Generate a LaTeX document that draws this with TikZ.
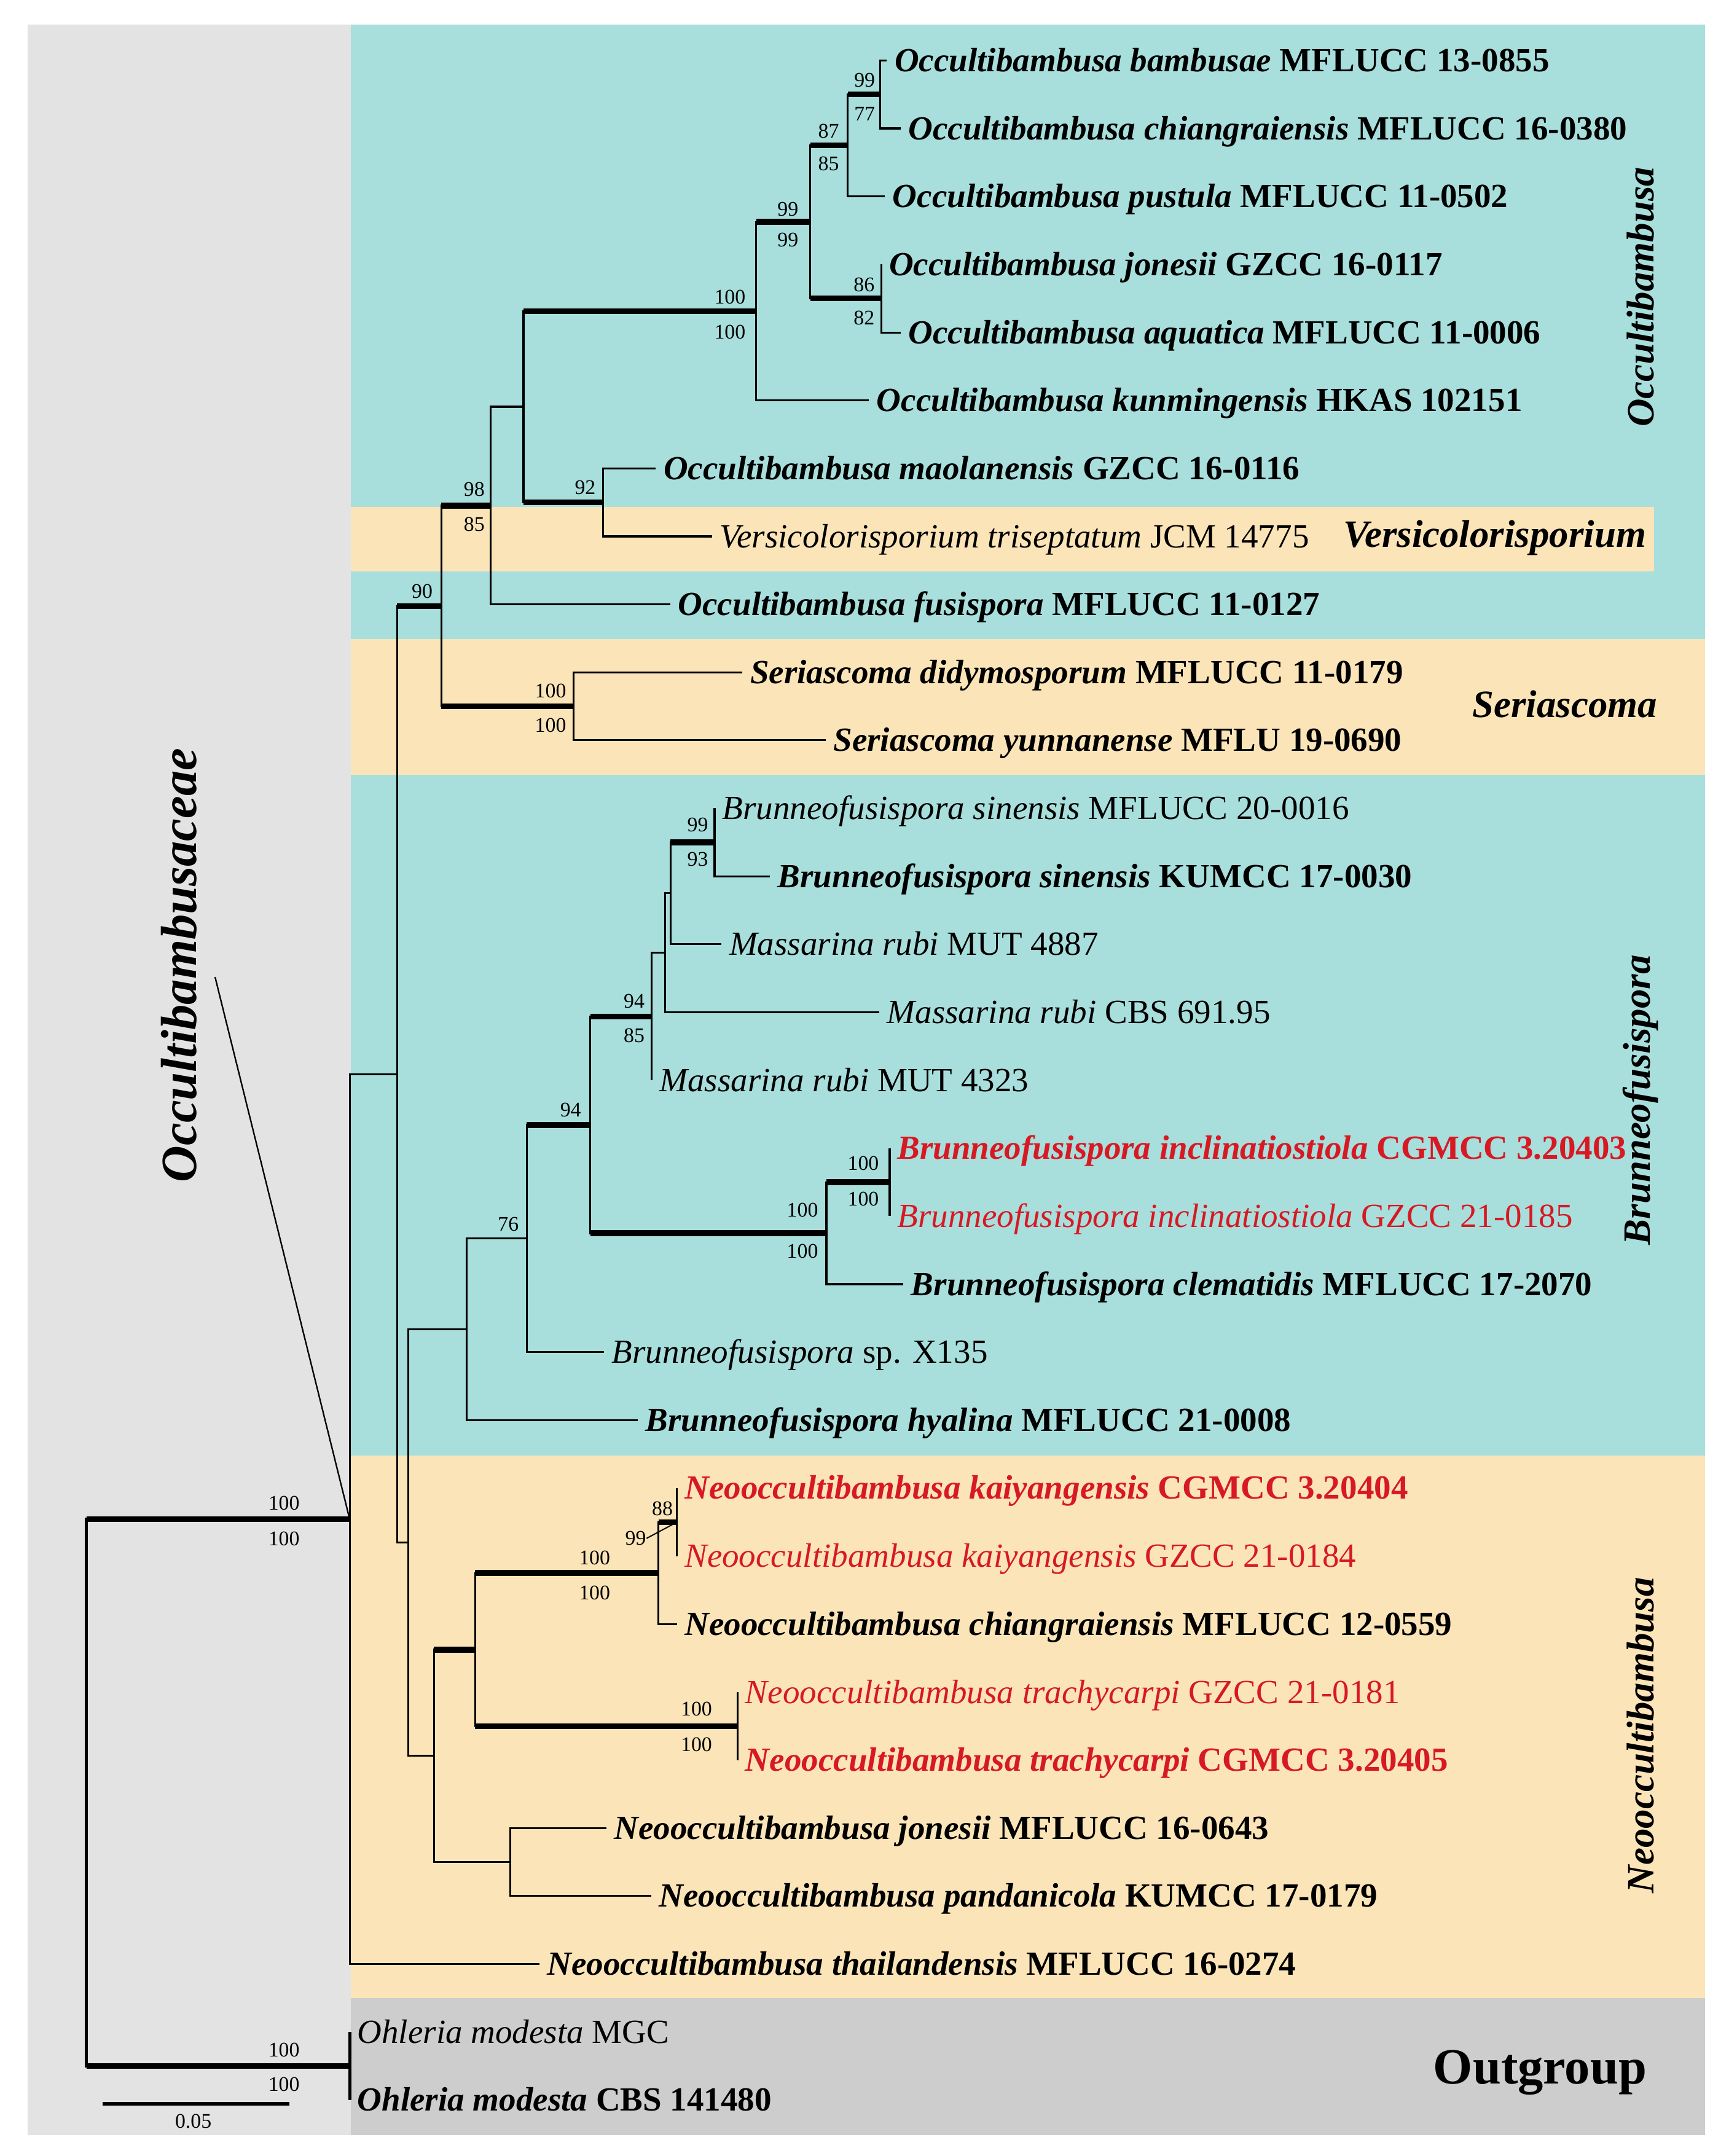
\documentclass[tikz,border=0pt]{standalone}
\usepackage{fontspec}
\setmainfont{Liberation Serif}
\usepackage{tikz}

\definecolor{occ}{RGB}{168,222,220}
\definecolor{ser}{RGB}{251,229,184}
\definecolor{fam}{RGB}{227,227,227}
\definecolor{outg}{RGB}{205,205,205}
\definecolor{newsp}{RGB}{215,25,35}

\tikzset{
  br/.style={line width=0.8pt},
  bs/.style={line width=2.4pt},
  taxon/.style={anchor=base west, yshift=-4.6pt, inner xsep=3pt, inner ysep=0pt, font=\fontsize{14}{16}\selectfont},
  taxonb/.style={taxon, font=\fontsize{14}{16}\selectfont\bfseries},
  sup/.style={inner sep=0pt, font=\fontsize{8.6}{10}\selectfont},
  clade/.style={inner sep=0pt, font=\fontsize{16}{18}\selectfont\bfseries\itshape},
}

\begin{document}
\begin{tikzpicture}[x=0.02cm, y=-0.02cm]
\useasboundingbox (0,0) rectangle (1257,1568);
% coloured panels
\fill[fam] (20,18) rectangle (1240,1553);
\fill[occ] (255,18) rectangle (1240,1058.5);
\fill[ser] (255,368.5) rectangle (1203,415.5);
\fill[ser] (255,464.5) rectangle (1240,563.5);
\fill[ser] (255,1058.5) rectangle (1240,1453);
\fill[outg] (255,1453) rectangle (1240,1553);

% tips
\coordinate (t1) at (645,44.0);
\coordinate (t2) at (655,93.4);
\coordinate (t3) at (643.6,142.9);
\coordinate (t4) at (641,192.3);
\coordinate (t5) at (655,241.8);
\coordinate (t6) at (632,291.2);
\coordinate (t7) at (477,340.6);
\coordinate (t8) at (518,390.1);
\coordinate (t9) at (487.6,439.5);
\coordinate (t10) at (540,489.0);
\coordinate (t11) at (600.5,538.4);
\coordinate (t12) at (519.7,587.8);
\coordinate (t13) at (560,637.3);
\coordinate (t14) at (524.8,686.7);
\coordinate (t15) at (639.5,736.2);
\coordinate (t16) at (474,785.6);
\coordinate (t17) at (647,835.0);
\coordinate (t18) at (647,884.5);
\coordinate (t19) at (657,933.9);
\coordinate (t20) at (439.4,983.4);
\coordinate (t21) at (463.8,1032.8);
\coordinate (t22) at (492.3,1082.2);
\coordinate (t23) at (492.3,1131.7);
\coordinate (t24) at (492.3,1181.1);
\coordinate (t25) at (536.4,1230.6);
\coordinate (t26) at (536.4,1280.0);
\coordinate (t27) at (441,1329.4);
\coordinate (t28) at (473.7,1378.9);
\coordinate (t29) at (392.4,1428.3);
\coordinate (t30) at (254.3,1477.8);
\coordinate (t31) at (254.3,1527.2);

% internal nodes
\coordinate (ob) at (640,68.7);
\coordinate (op) at (616.6,105.8);
\coordinate (oj) at (641,217);
\coordinate (oc) at (589.3,161.4);
\coordinate (ok) at (550,226.3);
\coordinate (ov) at (438.5,365.4);
\coordinate (oa) at (380.7,295.8);
\coordinate (of) at (356.9,367.7);
\coordinate (se) at (417,513.7);
\coordinate (os) at (321,440.7);
\coordinate (bsi) at (519.7,612.6);
\coordinate (bm1) at (487.6,649.6);
\coordinate (bm2) at (483.8,692.9);
\coordinate (bm3) at (474,739.3);
\coordinate (bin) at (647,859.8);
\coordinate (bcl) at (601,896.9);
\coordinate (b94) at (429.2,818.1);
\coordinate (b76) at (383,900.8);
\coordinate (bhy) at (339.4,966.8);
\coordinate (nka) at (492.3,1107);
\coordinate (nch) at (478.9,1144);
\coordinate (ntr) at (536.4,1255.3);
\coordinate (nc) at (345.5,1199.7);
\coordinate (njp) at (371.1,1354.2);
\coordinate (nd) at (315.6,1277);
\coordinate (ne) at (297,1121.9);
\coordinate (nf) at (288.8,781.3);
\coordinate (ing) at (254.3,1104.8);
\coordinate (og) at (254.3,1502.5);
\coordinate (rt) at (62.8,1303.7);
\coordinate (famtip) at (156.4,710.5);

% branches
\draw[br] (t1) -| (ob) |- (t2);
\draw[br] (ob) -| (op) |- (t3);
\draw[br] (t4) -| (oj) |- (t5);
\draw[br] (op) -| (oc) |- (oj);
\draw[br] (oc) -| (ok) |- (t6);
\draw[br] (t7) -| (ov) |- (t8);
\draw[br] (ok) -| (oa) |- (ov);
\draw[br] (oa) -| (of) |- (t9);
\draw[br] (t10) -| (se) |- (t11);
\draw[br] (of) -| (os) |- (se);
\draw[br] (t12) -| (bsi) |- (t13);
\draw[br] (bsi) -| (bm1) |- (t14);
\draw[br] (bm1) -| (bm2) |- (t15);
\draw[br] (bm2) -| (bm3) |- (t16);
\draw[br] (t17) -| (bin) |- (t18);
\draw[br] (bin) -| (bcl) |- (t19);
\draw[br] (bm3) -| (b94) |- (bcl);
\draw[br] (b94) -| (b76) |- (t20);
\draw[br] (b76) -| (bhy) |- (t21);
\draw[br] (t22) -| (nka) |- (t23);
\draw[br] (nka) -| (nch) |- (t24);
\draw[br] (t25) -| (ntr) |- (t26);
\draw[br] (nch) -| (nc) |- (ntr);
\draw[br] (t27) -| (njp) |- (t28);
\draw[br] (nc) -| (nd) |- (njp);
\draw[br] (bhy) -| (ne) |- (nd);
\draw[br] (os) -| (nf) |- (ne);
\draw[br] (nf) -| (ing) |- (t29);
\draw[br, line width=1.3pt] (t30) -- (t31);
\draw[br, line width=1.3pt] (ing) -| (rt) |- (og);
\draw[line width=0.6pt] (famtip) -- (ing);

% supported branches
\draw[bs] (op |- ob) -- (ob);
\draw[bs] (oc |- op) -- (op);
\draw[bs] (oc |- oj) -- (oj);
\draw[bs] (ok |- oc) -- (oc);
\draw[bs] (oa |- ok) -- (ok);
\draw[bs] (oa |- ov) -- (ov);
\draw[bs] (os |- of) -- (of);
\draw[bs] (os |- se) -- (se);
\draw[bs] (nf |- os) -- (os);
\draw[bs] (bm1 |- bsi) -- (bsi);
\draw[bs] (b94 |- bm3) -- (bm3);
\draw[bs] (bcl |- bin) -- (bin);
\draw[bs] (b94 |- bcl) -- (bcl);
\draw[bs] (b76 |- b94) -- (b94);
\draw[bs] (nch |- nka) -- (nka);
\draw[bs] (nc |- nch) -- (nch);
\draw[bs] (nc |- ntr) -- (ntr);
\draw[bs] (nd |- nc) -- (nc);
\draw[bs] (rt |- ing) -- (ing);
\draw[bs] (rt |- og) -- (og);

% support values
\node[sup] (s1) at (628.8,58.3) {99};
\node[sup] (s2) at (628.8,83) {77};
\node[sup] (s3) at (602.6,95.5) {87};
\node[sup] (s4) at (602.6,119) {85};
\node[sup] (s5) at (573,152) {99};
\node[sup] (s6) at (573,174.5) {99};
\node[sup] (s7) at (628.4,207) {86};
\node[sup] (s8) at (628.4,231.4) {82};
\node[sup] (s9) at (530.8,216) {100};
\node[sup] (s10) at (530.8,241.7) {100};
\node[sup] (s11) at (425.6,354.6) {92};
\node[sup] (s12) at (344.9,356) {98};
\node[sup] (s13) at (344.9,381.5) {85};
\node[sup] (s14) at (307,430) {90};
\node[sup] (s15) at (400.4,502.4) {100};
\node[sup] (s16) at (400.4,527.5) {100};
\node[sup] (s17) at (507.4,600) {99};
\node[sup] (s18) at (507.4,624.7) {93};
\node[sup] (s19) at (461.2,728) {94};
\node[sup] (s20) at (461.2,753) {85};
\node[sup] (s21) at (415,807) {94};
\node[sup] (s22) at (369.7,890.5) {76};
\node[sup] (s23) at (627.8,846) {100};
\node[sup] (s24) at (627.8,872) {100};
\node[sup] (s25) at (583.6,880) {100};
\node[sup] (s26) at (583.6,910) {100};
\node[sup] (s27) at (481.7,1097) {88};
\node[sup] (s28) at (462.3,1118.8) {99};
\node[sup] (s29) at (432.4,1133) {100};
\node[sup] (s30) at (432.4,1158.5) {100};
\node[sup] (s31) at (506.5,1243) {100};
\node[sup] (s32) at (506.5,1268.8) {100};
\node[sup] (s33) at (206.5,1093.2) {100};
\node[sup] (s34) at (206.5,1119) {100};
\node[sup] (s35) at (206.5,1491) {100};
\node[sup] (s36) at (206.5,1516) {100};
\draw[line width=0.5pt] (s28.east) -- (nka);

% taxa
\node[taxonb] (l1) at (t1) {\textit{Occultibambusa bambusae} MFLUCC 13-0855};
\node[taxonb] (l2) at (t2) {\textit{Occultibambusa chiangraiensis} MFLUCC 16-0380};
\node[taxonb] (l3) at (t3) {\textit{Occultibambusa pustula} MFLUCC 11-0502};
\node[taxonb] (l4) at (t4) {\textit{Occultibambusa jonesii} GZCC 16-0117};
\node[taxonb] (l5) at (t5) {\textit{Occultibambusa aquatica} MFLUCC 11-0006};
\node[taxonb] (l6) at (t6) {\textit{Occultibambusa kunmingensis} HKAS 102151};
\node[taxonb] (l7) at (t7) {\textit{Occultibambusa maolanensis} GZCC 16-0116};
\node[taxon] (l8) at (t8) {\textit{Versicolorisporium triseptatum} JCM 14775};
\node[taxonb] (l9) at (t9) {\textit{Occultibambusa fusispora} MFLUCC 11-0127};
\node[taxonb] (l10) at (t10) {\textit{Seriascoma didymosporum} MFLUCC 11-0179};
\node[taxonb] (l11) at (t11) {\textit{Seriascoma yunnanense} MFLU 19-0690};
\node[taxon] (l12) at (t12) {\textit{Brunneofusispora sinensis} MFLUCC 20-0016};
\node[taxonb] (l13) at (t13) {\textit{Brunneofusispora sinensis} KUMCC 17-0030};
\node[taxon] (l14) at (t14) {\textit{Massarina rubi} MUT 4887};
\node[taxon] (l15) at (t15) {\textit{Massarina rubi} CBS 691.95};
\node[taxon] (l16) at (t16) {\textit{Massarina rubi} MUT 4323};
\node[taxonb, text=newsp] (l17) at (t17) {\textit{Brunneofusispora inclinatiostiola} CGMCC 3.20403};
\node[taxon, text=newsp] (l18) at (t18) {\textit{Brunneofusispora inclinatiostiola} GZCC 21-0185};
\node[taxonb] (l19) at (t19) {\textit{Brunneofusispora clematidis} MFLUCC 17-2070};
\node[taxon] (l20) at (t20) {\textit{Brunneofusispora} sp. X135};
\node[taxonb] (l21) at (t21) {\textit{Brunneofusispora hyalina} MFLUCC 21-0008};
\node[taxonb, text=newsp] (l22) at (t22) {\textit{Neooccultibambusa kaiyangensis} CGMCC 3.20404};
\node[taxon, text=newsp] (l23) at (t23) {\textit{Neooccultibambusa kaiyangensis} GZCC 21-0184};
\node[taxonb] (l24) at (t24) {\textit{Neooccultibambusa chiangraiensis} MFLUCC 12-0559};
\node[taxon, text=newsp] (l25) at (t25) {\textit{Neooccultibambusa trachycarpi} GZCC 21-0181};
\node[taxonb, text=newsp] (l26) at (t26) {\textit{Neooccultibambusa trachycarpi} CGMCC 3.20405};
\node[taxonb] (l27) at (t27) {\textit{Neooccultibambusa jonesii} MFLUCC 16-0643};
\node[taxonb] (l28) at (t28) {\textit{Neooccultibambusa pandanicola} KUMCC 17-0179};
\node[taxonb] (l29) at (t29) {\textit{Neooccultibambusa thailandensis} MFLUCC 16-0274};
\node[taxon] (l30) at (t30) {\textit{Ohleria modesta} MGC};
\node[taxonb] (l31) at (t31) {\textit{Ohleria modesta} CBS 141480};

% clade names
\node[clade, rotate=90] (cOcc) at (1193,216) {Occultibambusa};
\node[clade] (cVer) at (1087,391) {Versicolorisporium};
\node[clade] (cSer) at (1138,512) {Seriascoma};
\node[clade, rotate=90] (cBru) at (1193,800) {Brunneofusispora};
\node[clade, rotate=90] (cNeo) at (1193,1262) {Neooccultibambusa};
\node[clade, rotate=90, font=\fontsize{21}{24}\selectfont\bfseries\itshape] (cFam) at (130.3,702) {Occultibambusaceae};
\node[inner sep=0pt, anchor=base, font=\fontsize{21}{24}\selectfont\bfseries] (cOut) at (1120,1515.5) {Outgroup};

% scale bar
\coordinate (sb1) at (74.8,1530);
\coordinate (sb2) at (210.4,1530);
\draw[line width=1.3pt] (sb1) -- (sb2);
\node[sup] (sbl) at (140.6,1542.7) {0.05};
\end{tikzpicture}
\end{document}
